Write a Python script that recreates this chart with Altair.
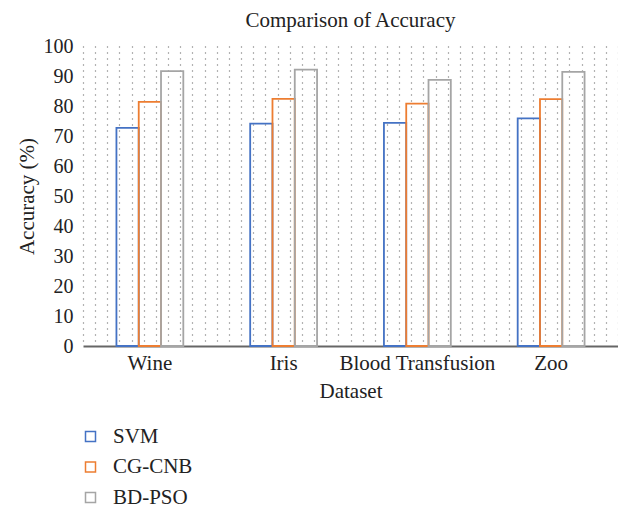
import altair as alt
import pandas as pd

datasets = ["Wine", "Iris", "Blood Transfusion", "Zoo"]
methods = ["SVM", "CG-CNB", "BD-PSO"]
svm = [72.7, 74.1, 74.4, 75.9]
cg_cnb = [81.4, 82.4, 80.8, 82.3]
bd_pso = [91.6, 92.1, 88.7, 91.4]
colors = ["#4472C4", "#ED7D31", "#A5A5A5"]
y_ticks = list(range(0, 101, 10))
dot_cols = list(range(0, 45))

rows = []
for i, d in enumerate(datasets):
    for m, vals in zip(methods, [svm, cg_cnb, bd_pso]):
        rows.append({"Dataset": d, "Method": m, "Accuracy": vals[i]})
df = pd.DataFrame(rows)
grid_df = pd.DataFrame({"g": dot_cols})

FONT = "Liberation Serif"
TXT = "#222222"

grid = alt.Chart(grid_df).mark_rule(opacity=0).encode(
    x=alt.X("g:Q", scale=alt.Scale(domain=[0, 44], nice=False, zero=False),
            axis=alt.Axis(orient="top", values=dot_cols, labels=False, ticks=False,
                          domain=False, title=None, grid=True, gridDash=[1, 5],
                          gridColor="#666666", gridWidth=1.2))
)

bars = alt.Chart(df).mark_bar(filled=False, strokeWidth=1.8).encode(
    x=alt.X("Dataset:N", sort=datasets,
            scale=alt.Scale(paddingInner=0.5, paddingOuter=0.25),
            axis=alt.Axis(title="Dataset", labelAngle=0, ticks=False, domainColor="#666666",
                          domainWidth=2, labelFontSize=21, labelFont=FONT, labelColor=TXT,
                          labelPadding=6, titleFontSize=21, titleFont=FONT, titleFontWeight="normal",
                          titleColor=TXT, titlePadding=7, grid=False)),
    xOffset=alt.XOffset("Method:N", sort=methods, scale=alt.Scale(paddingInner=0, paddingOuter=0)),
    y=alt.Y("Accuracy:Q", scale=alt.Scale(domain=[0, 100], nice=False),
            axis=alt.Axis(title="Accuracy (%)", values=y_ticks, grid=False, domain=False, ticks=False,
                          labelFontSize=20, labelFont=FONT, labelColor=TXT, labelPadding=10,
                          titleFontSize=21, titleFont=FONT, titleFontWeight="normal",
                          titleColor=TXT, titlePadding=6)),
    color=alt.Color("Method:N", sort=methods,
                    scale=alt.Scale(domain=methods, range=colors),
                    legend=alt.Legend(title=None, orient="none", legendX=-3, legendY=380,
                                      symbolType="square", symbolSize=100, symbolStrokeWidth=1.5,
                                      labelFontSize=21, labelFont=FONT,
                                      labelColor=TXT, rowPadding=8.5, labelOffset=12)),
)

chart = alt.layer(grid, bars).resolve_scale(x="independent").properties(
    width=535,
    height=300,
    title=alt.Title("Comparison of Accuracy", font=FONT, fontSize=21, fontWeight="normal",
                    color=TXT, anchor="middle", offset=5),
    autosize=alt.AutoSizeParams(type="none"),
    padding={"left": 75, "top": 38, "right": 0, "bottom": 161},
).configure_view(stroke=None)

chart.save("out.html", embed_options={"renderer": "svg", "actions": False})
